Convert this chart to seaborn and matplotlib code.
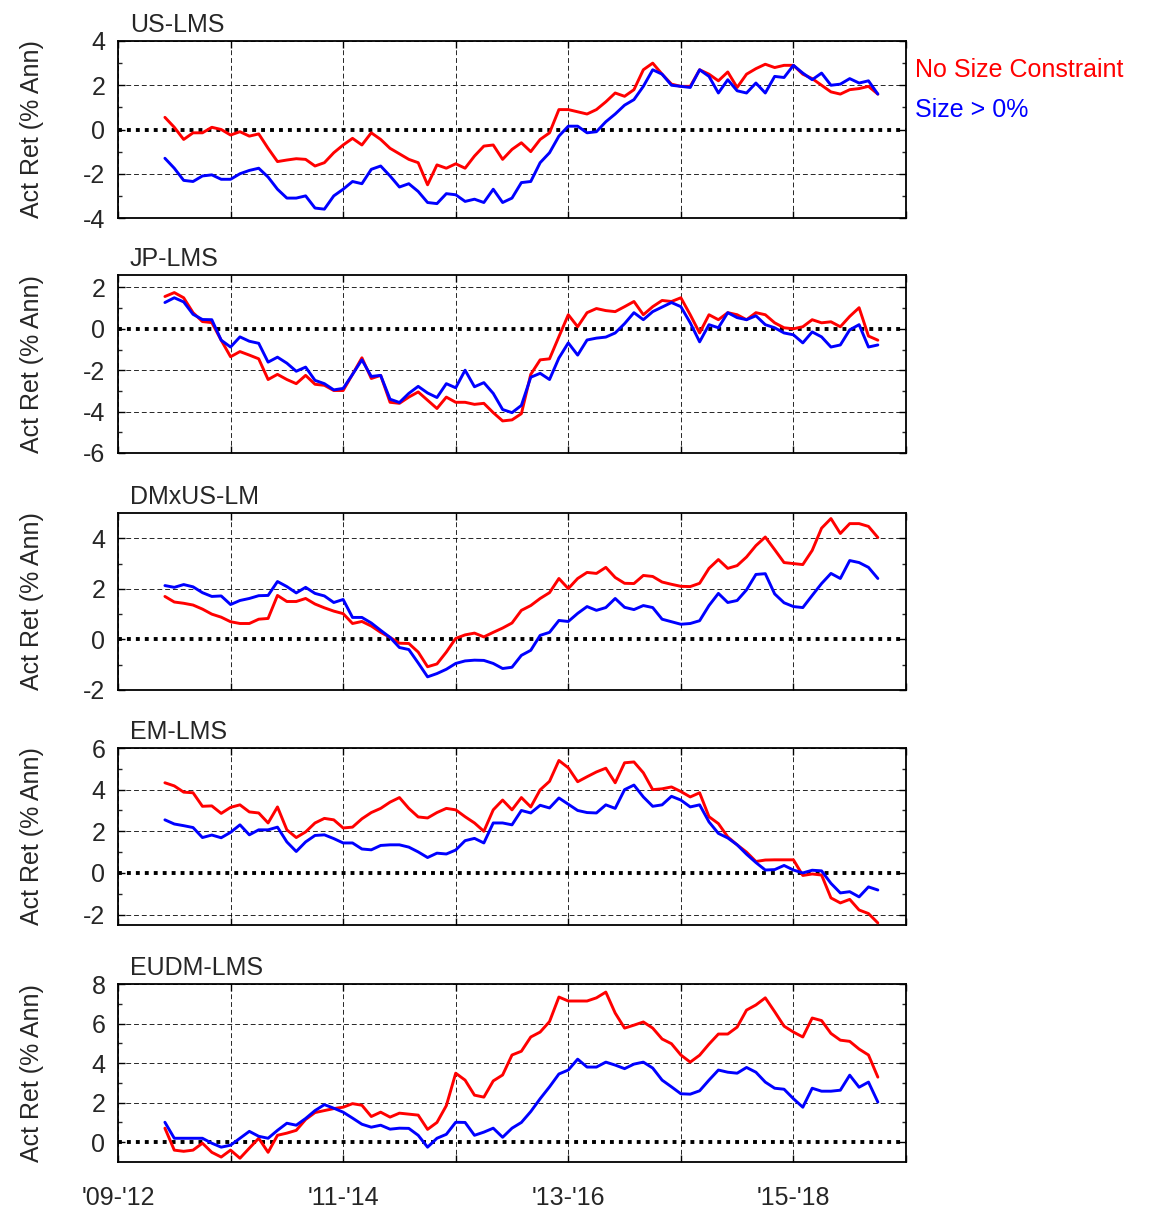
import numpy as np
import pandas as pd
import matplotlib
matplotlib.use("Agg")
import matplotlib.pyplot as plt
import seaborn as sns

# months since start of the x-axis (one value per month)
months = list(range(5, 82))

panel_names = ["US-LMS", "JP-LMS", "DMxUS-LM", "EM-LMS", "EUDM-LMS"]
series_names = ["No Size Constraint", "Size > 0%"]
xtick_labels = ["'09-'12", "", "'11-'14", "", "'13-'16", "", "'15-'18", ""]

us_nosize = [0.55, 0.1, -0.45, -0.15, -0.15, 0.1, 0.0, -0.25, -0.1, -0.3,
             -0.2, -0.85, -1.45, -1.38, -1.32, -1.35, -1.65, -1.5, -1.05, -0.7,
             -0.4, -0.7, -0.15, -0.45, -0.85, -1.1, -1.35, -1.5, -2.5, -1.6,
             -1.75, -1.55, -1.75, -1.2, -0.75, -0.7, -1.35, -0.9, -0.6, -1.0,
             -0.45, -0.15, 0.9, 0.9, 0.8, 0.7, 0.9, 1.25, 1.65, 1.5,
             1.8, 2.7, 3.0, 2.5, 2.05, 1.95, 1.95, 2.7, 2.5, 2.2,
             2.6, 1.9, 2.5, 2.75, 2.95, 2.8, 2.9, 2.9, 2.5, 2.3,
             2.0, 1.7, 1.6, 1.8, 1.85, 1.95, 1.6]
us_size0 = [-1.3, -1.75, -2.3, -2.35, -2.1, -2.05, -2.25, -2.25, -2.0, -1.85,
            -1.75, -2.15, -2.7, -3.1, -3.1, -3.0, -3.55, -3.6, -3.0, -2.7,
            -2.35, -2.45, -1.8, -1.65, -2.1, -2.6, -2.45, -2.8, -3.3, -3.35,
            -2.9, -2.95, -3.25, -3.15, -3.3, -2.7, -3.3, -3.1, -2.4, -2.35,
            -1.5, -1.05, -0.3, 0.15, 0.15, -0.15, -0.1, 0.35, 0.7, 1.1,
            1.35, 1.95, 2.7, 2.5, 2.0, 1.95, 1.9, 2.7, 2.4, 1.65,
            2.25, 1.75, 1.65, 2.1, 1.65, 2.4, 2.35, 2.9, 2.55, 2.25,
            2.55, 2.0, 2.05, 2.3, 2.1, 2.2, 1.6]

jp_nosize = [1.56, 1.75, 1.5, 0.78, 0.35, 0.3, -0.55, -1.35, -1.1, -1.27,
             -1.45, -2.45, -2.2, -2.45, -2.65, -2.25, -2.68, -2.73, -2.98, -2.98,
             -2.2, -1.4, -2.4, -2.25, -3.55, -3.6, -3.3, -3.05, -3.45, -3.85,
             -3.3, -3.55, -3.55, -3.65, -3.6, -4.05, -4.45, -4.4, -4.1, -2.2,
             -1.5, -1.45, -0.38, 0.68, 0.1, 0.78, 0.98, 0.88, 0.83, 1.07,
             1.32, 0.68, 1.07, 1.37, 1.32, 1.5, 0.68, -0.2, 0.68, 0.44,
             0.78, 0.68, 0.44, 0.78, 0.68, 0.29, 0.05, 0.0, 0.1, 0.44,
             0.29, 0.34, 0.1, 0.6, 1.02, -0.35, -0.55]
jp_size0 = [1.27, 1.5, 1.3, 0.7, 0.45, 0.44, -0.55, -0.88, -0.39, -0.6,
            -0.7, -1.61, -1.37, -1.66, -2.05, -1.85, -2.49, -2.65, -2.95, -2.88,
            -2.2, -1.5, -2.3, -2.25, -3.4, -3.56, -3.12, -2.78, -3.1, -3.32,
            -2.65, -2.85, -2.0, -2.8, -2.6, -3.12, -3.9, -4.05, -3.7, -2.34,
            -2.15, -2.45, -1.41, -0.68, -1.27, -0.54, -0.45, -0.4, -0.2, 0.25,
            0.78, 0.44, 0.83, 1.05, 1.27, 1.07, 0.29, -0.63, 0.2, 0.05,
            0.78, 0.54, 0.44, 0.63, 0.2, 0.05, -0.2, -0.29, -0.68, -0.15,
            -0.39, -0.88, -0.78, -0.05, 0.2, -0.88, -0.78]

dm_nosize = [1.7, 1.48, 1.43, 1.36, 1.2, 1.0, 0.88, 0.7, 0.63, 0.63,
             0.8, 0.83, 1.74, 1.5, 1.5, 1.62, 1.4, 1.25, 1.12, 1.02,
             0.63, 0.71, 0.53, 0.28, 0.08, -0.15, -0.16, -0.5, -1.08, -0.97,
             -0.5, 0.04, 0.18, 0.25, 0.1, 0.28, 0.45, 0.65, 1.15, 1.34,
             1.62, 1.85, 2.41, 2.01, 2.41, 2.65, 2.61, 2.85, 2.45, 2.22,
             2.21, 2.53, 2.49, 2.27, 2.18, 2.1, 2.09, 2.22, 2.81, 3.16,
             2.81, 2.92, 3.26, 3.71, 4.05, 3.55, 3.04, 3.0, 2.96, 3.52,
             4.4, 4.78, 4.19, 4.58, 4.58, 4.47, 4.03]
dm_size0 = [2.13, 2.06, 2.17, 2.08, 1.85, 1.7, 1.72, 1.38, 1.54, 1.62,
            1.73, 1.74, 2.29, 2.09, 1.84, 2.06, 1.82, 1.72, 1.46, 1.58,
            0.87, 0.87, 0.65, 0.36, 0.08, -0.32, -0.4, -0.93, -1.48, -1.35,
            -1.18, -0.95, -0.85, -0.82, -0.83, -0.95, -1.15, -1.1, -0.63, -0.43,
            0.16, 0.28, 0.75, 0.71, 1.03, 1.3, 1.15, 1.26, 1.62, 1.27,
            1.18, 1.34, 1.26, 0.8, 0.7, 0.6, 0.63, 0.74, 1.34, 1.82,
            1.46, 1.54, 1.96, 2.57, 2.6, 1.8, 1.45, 1.3, 1.26, 1.74,
            2.21, 2.61, 2.41, 3.12, 3.04, 2.85, 2.41]

em_nosize = [4.33, 4.18, 3.88, 3.85, 3.2, 3.22, 2.86, 3.15, 3.27, 2.93,
             2.88, 2.4, 3.17, 2.07, 1.7, 1.97, 2.4, 2.62, 2.55, 2.16,
             2.2, 2.6, 2.9, 3.1, 3.4, 3.62, 3.1, 2.69, 2.64, 2.9,
             3.1, 3.03, 2.7, 2.4, 2.0, 3.03, 3.5, 3.03, 3.62, 3.17,
             3.99, 4.4, 5.4, 5.05, 4.38, 4.62, 4.85, 5.03, 4.33, 5.29,
             5.33, 4.81, 4.0, 4.04, 4.13, 3.91, 3.65, 3.85, 2.7, 2.37,
             1.73, 1.35, 1.0, 0.55, 0.62, 0.63, 0.63, 0.63, -0.12, -0.05,
             -0.1, -1.2, -1.44, -1.27, -1.78, -1.95, -2.4]
em_size0 = [2.55, 2.35, 2.27, 2.18, 1.7, 1.82, 1.69, 1.95, 2.31, 1.83,
            2.07, 2.07, 2.2, 1.49, 1.03, 1.49, 1.8, 1.83, 1.65, 1.44,
            1.44, 1.15, 1.11, 1.32, 1.35, 1.35, 1.24, 1.01, 0.74, 0.95,
            0.91, 1.1, 1.55, 1.66, 1.44, 2.4, 2.4, 2.31, 3.0, 2.88,
            3.25, 3.12, 3.6, 3.3, 3.0, 2.9, 2.88, 3.27, 3.1, 4.0,
            4.22, 3.65, 3.2, 3.27, 3.68, 3.5, 3.17, 3.27, 2.45, 1.9,
            1.68, 1.35, 0.9, 0.5, 0.14, 0.16, 0.36, 0.14, 0.0, 0.13,
            0.1, -0.5, -0.96, -0.9, -1.15, -0.67, -0.82]

eu_nosize = [0.71, -0.4, -0.46, -0.4, -0.05, -0.51, -0.75, -0.4, -0.81, -0.3,
             0.2, -0.51, 0.35, 0.46, 0.6, 1.15, 1.5, 1.6, 1.7, 1.77,
             1.95, 1.87, 1.3, 1.52, 1.27, 1.47, 1.42, 1.37, 0.65, 1.0,
             1.85, 3.49, 3.14, 2.38, 2.28, 3.1, 3.4, 4.41, 4.6, 5.32,
             5.57, 6.1, 7.34, 7.14, 7.14, 7.14, 7.3, 7.59, 6.53, 5.77,
             5.92, 6.08, 5.77, 5.22, 4.98, 4.41, 4.05, 4.4, 4.96, 5.47,
             5.47, 5.82, 6.68, 6.94, 7.3, 6.6, 5.87, 5.57, 5.32, 6.28,
             6.15, 5.5, 5.16, 5.1, 4.71, 4.41, 3.29]
eu_size0 = [1.01, 0.2, 0.2, 0.2, 0.2, -0.05, -0.25, -0.15, 0.2, 0.55,
            0.3, 0.2, 0.6, 0.96, 0.86, 1.2, 1.6, 1.9, 1.72, 1.52,
            1.22, 0.91, 0.76, 0.86, 0.66, 0.71, 0.7, 0.35, -0.25, 0.2,
            0.4, 1.01, 1.0, 0.35, 0.51, 0.71, 0.25, 0.71, 1.0, 1.55,
            2.2, 2.8, 3.45, 3.65, 4.2, 3.8, 3.8, 4.05, 3.9, 3.72,
            3.95, 4.05, 3.75, 3.14, 2.8, 2.45, 2.43, 2.6, 3.14, 3.65,
            3.54, 3.49, 3.78, 3.54, 3.04, 2.73, 2.68, 2.2, 1.77, 2.73,
            2.58, 2.58, 2.63, 3.39, 2.78, 3.04, 2.03]

nosize_series = [us_nosize, jp_nosize, dm_nosize, em_nosize, eu_nosize]
size0_series = [us_size0, jp_size0, dm_size0, em_size0, eu_size0]

y_limits = [(-4, 4), (-6, 2.6), (-2, 5), (-2.5, 6), (-1, 8)]
y_major = [[-4, -2, 0, 2, 4], [-6, -4, -2, 0, 2], [-2, 0, 2, 4],
           [-2, 0, 2, 4, 6], [0, 2, 4, 6, 8]]
y_minor = [[-3, -1, 1, 3], [-5, -3, -1, 1], [-1, 1, 3],
           [-1, 1, 3, 5], [1, 3, 5, 7]]

# panel pixel boxes (top, bottom) in the 1165x1212 figure
panel_px = [(41, 218), (275, 453), (513, 690), (748, 925), (984, 1162)]

W, H = 1165, 1212
sns.set_style("ticks")
plt.rcParams["font.family"] = ["Liberation Sans", "DejaVu Sans"]
fs = 18
red = "#ff0000"
blue = "#0000ff"
txt = "#262626"

fig = plt.figure(figsize=(W / 100, H / 100), dpi=100)
left_px, right_px = 118, 906

for i in range(5):
    top, bot = panel_px[i]
    ax = fig.add_axes([left_px / W, 1 - bot / H, (right_px - left_px) / W, (bot - top) / H])
    df = pd.DataFrame({"month": months, "red": nosize_series[i], "blue": size0_series[i]})

    ax.axhline(0, color="black", lw=2.8, ls=(0, (1, 1.3)), dash_capstyle="butt", zorder=1)
    sns.lineplot(data=df, x="month", y="red", color=red, lw=2.1, ax=ax, zorder=3)
    sns.lineplot(data=df, x="month", y="blue", color=blue, lw=2.1, ax=ax, zorder=4)

    ax.set_xlim(0, 84)
    ax.set_ylim(*y_limits[i])
    ax.set_xticks(range(0, 85, 12))
    ax.set_yticks(y_major[i])
    ax.set_yticks(y_minor[i], minor=True)
    ax.set_yticklabels([str(v) for v in y_major[i]], fontsize=fs, color=txt)
    if i == 4:
        ax.set_xticklabels(xtick_labels, fontsize=fs, color=txt)
    else:
        ax.set_xticklabels([])
    ax.tick_params(axis="both", which="major", direction="in", length=5, width=1,
                   top=True, right=True, color="black")
    ax.tick_params(axis="y", which="major", pad=9)
    ax.tick_params(axis="x", which="major", pad=17)
    ax.tick_params(axis="y", which="minor", direction="in", length=3, width=1,
                   right=True)

    ax.grid(True, which="major", color="black", lw=0.7, ls=(0, (5, 3)), alpha=0.85)
    for tick, val in zip(ax.yaxis.get_major_ticks(), y_major[i]):
        if val == 0:
            tick.gridline.set_visible(False)

    for sp in ax.spines.values():
        sp.set_color("black")
        sp.set_linewidth(1.3)

    ax.set_xlabel("")
    ax.set_ylabel("Act Ret (% Ann)", fontsize=fs, color=txt)
    ax.yaxis.set_label_coords(-0.094, 0.5)
    ax.text(0.015, 1.025, panel_names[i], transform=ax.transAxes, fontsize=fs,
            ha="left", va="bottom", color=txt)

fig.text(915 / W, 1 - 70 / H, series_names[0], color=red, fontsize=fs, va="center", ha="left")
fig.text(915 / W, 1 - 110 / H, series_names[1], color=blue, fontsize=fs, va="center", ha="left")

fig.savefig("out.png", dpi=100)
